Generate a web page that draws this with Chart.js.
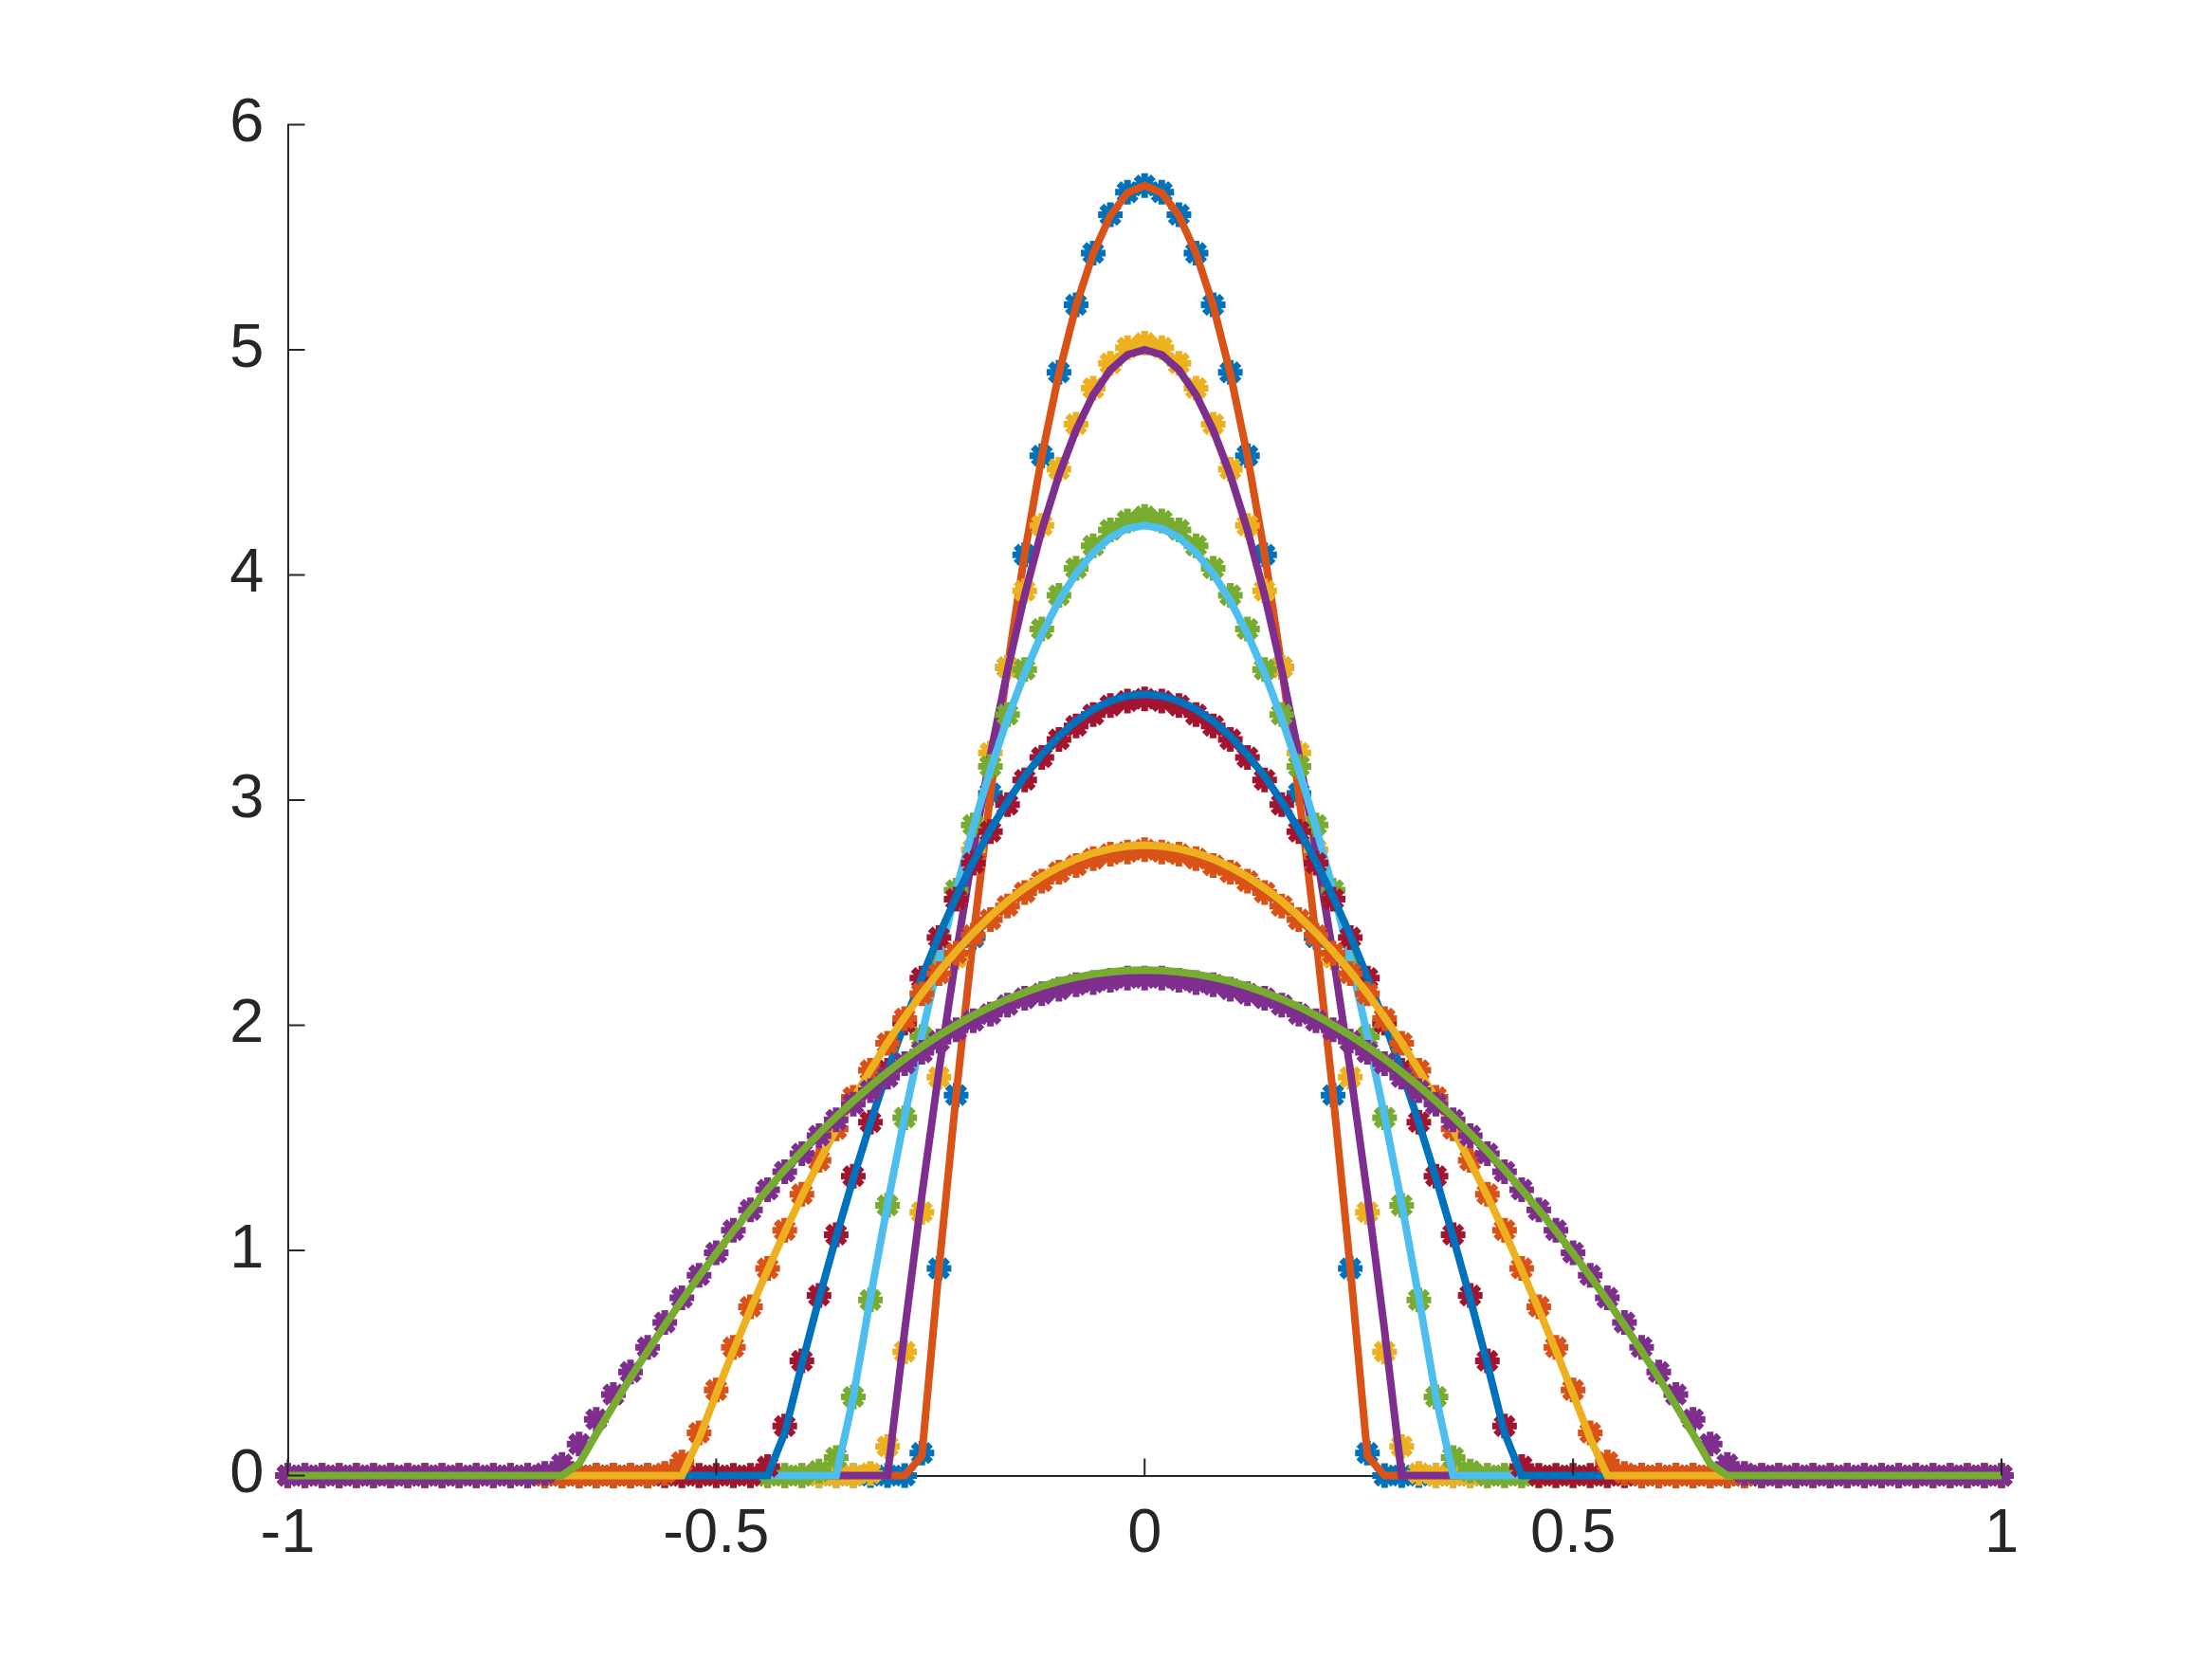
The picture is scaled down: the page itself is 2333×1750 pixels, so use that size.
<!DOCTYPE html>
<html>
<head>
<meta charset="utf-8">
<script src="https://cdn.jsdelivr.net/npm/chart.js@4.4.1/dist/chart.umd.min.js"></script>
<style>
  html, body { margin: 0; padding: 0; background: #fff; }
  canvas { display: block; }
</style>
</head>
<body>
<canvas id="profiles" width="2333" height="1750"></canvas>
<script>
// grid of x positions, -1 .. 1 step 0.02
const xs = [
  -1.00, -0.98, -0.96, -0.94, -0.92, -0.90, -0.88, -0.86, -0.84, -0.82,
  -0.80, -0.78, -0.76, -0.74, -0.72, -0.70, -0.68, -0.66, -0.64, -0.62,
  -0.60, -0.58, -0.56, -0.54, -0.52, -0.50, -0.48, -0.46, -0.44, -0.42,
  -0.40, -0.38, -0.36, -0.34, -0.32, -0.30, -0.28, -0.26, -0.24, -0.22,
  -0.20, -0.18, -0.16, -0.14, -0.12, -0.10, -0.08, -0.06, -0.04, -0.02,
  0.00,
  0.02, 0.04, 0.06, 0.08, 0.10, 0.12, 0.14, 0.16, 0.18, 0.20,
  0.22, 0.24, 0.26, 0.28, 0.30, 0.32, 0.34, 0.36, 0.38, 0.40,
  0.42, 0.44, 0.46, 0.48, 0.50, 0.52, 0.54, 0.56, 0.58, 0.60,
  0.62, 0.64, 0.66, 0.68, 0.70, 0.72, 0.74, 0.76, 0.78, 0.80,
  0.82, 0.84, 0.86, 0.88, 0.90, 0.92, 0.94, 0.96, 0.98, 1.00
];

const xTicks = [-1, -0.5, 0, 0.5, 1];
const yTicks = [0, 1, 2, 3, 4, 5, 6];

// marker series (numerical) and line series (exact), in plotting order
const mark1 = [
  0,0,0,0,0,0,0,0,0,0, 0,0,0,0,0,0,0,0,0,0, 0,0,0,0,0,0,0,0,0,0, 0,0,0,0,0,0,0,
  0.10, 0.92, 1.69, 2.39, 3.03, 3.59, 4.09, 4.53, 4.90, 5.20, 5.43, 5.60, 5.70,
  5.73,
  5.70, 5.60, 5.43, 5.20, 4.90, 4.53, 4.09, 3.59, 3.03, 2.39, 1.69, 0.92, 0.10,
  0,0,0,0,0,0,0,0,0,0, 0,0,0,0,0,0,0,0,0,0, 0,0,0,0,0,0,0,0,0,0, 0,0,0,0,0,0,0
];
const line1 = [
  0,0,0,0,0,0,0,0,0,0, 0,0,0,0,0,0,0,0,0,0, 0,0,0,0,0,0,0,0,0,0, 0,0,0,0,0,0,0,
  0.087, 0.922, 1.690, 2.391, 3.025, 3.593, 4.094, 4.528, 4.895, 5.196, 5.429, 5.596, 5.697,
  5.730,
  5.697, 5.596, 5.429, 5.196, 4.895, 4.528, 4.094, 3.593, 3.025, 2.391, 1.690, 0.922, 0.087,
  0,0,0,0,0,0,0,0,0,0, 0,0,0,0,0,0,0,0,0,0, 0,0,0,0,0,0,0,0,0,0, 0,0,0,0,0,0,0
];
const mark2 = [
  0,0,0,0,0,0,0,0,0,0, 0,0,0,0,0,0,0,0,0,0, 0,0,0,0,0,0,0,0,0,0, 0,0,0,0,
  0.01, 0.13, 0.55, 1.17, 1.77, 2.30, 2.78, 3.21, 3.59, 3.93, 4.22, 4.47, 4.67, 4.83, 4.94, 5.01,
  5.03,
  5.01, 4.94, 4.83, 4.67, 4.47, 4.22, 3.93, 3.59, 3.21, 2.78, 2.30, 1.77, 1.17, 0.55, 0.13, 0.01,
  0,0,0,0,0,0,0,0,0,0, 0,0,0,0,0,0,0,0,0,0, 0,0,0,0,0,0,0,0,0,0, 0,0,0,0
];
const line2 = [
  0,0,0,0,0,0,0,0,0,0, 0,0,0,0,0,0,0,0,0,0, 0,0,0,0,0,0,0,0,0,0, 0,0,0,0,0,0,
  0.644, 1.244, 1.800, 2.311, 2.778, 3.200, 3.578, 3.911, 4.200, 4.444, 4.644, 4.800, 4.911, 4.978,
  5.000,
  4.978, 4.911, 4.800, 4.644, 4.444, 4.200, 3.911, 3.578, 3.200, 2.778, 2.311, 1.800, 1.244, 0.644,
  0,0,0,0,0,0,0,0,0,0, 0,0,0,0,0,0,0,0,0,0, 0,0,0,0,0,0,0,0,0,0, 0,0,0,0,0,0
];
const mark3 = [
  0,0,0,0,0,0,0,0,0,0, 0,0,0,0,0,0,0,0,0,0, 0,0,0,0,0,0,0,0,0,0, 0,
  0.02, 0.08, 0.35, 0.78, 1.20, 1.59, 1.95, 2.29, 2.60, 2.89, 3.15, 3.38, 3.58, 3.76, 3.91, 4.03, 4.13, 4.20, 4.24,
  4.26,
  4.24, 4.20, 4.13, 4.03, 3.91, 3.76, 3.58, 3.38, 3.15, 2.89, 2.60, 2.29, 1.95, 1.59, 1.20, 0.78, 0.35, 0.08, 0.02,
  0,0,0,0,0,0,0,0,0,0, 0,0,0,0,0,0,0,0,0,0, 0,0,0,0,0,0,0,0,0,0, 0
];
const line3 = [
  0,0,0,0,0,0,0,0,0,0, 0,0,0,0,0,0,0,0,0,0, 0,0,0,0,0,0,0,0,0,0, 0,0,0,
  0.349, 0.791, 1.206, 1.595, 1.956, 2.291, 2.599, 2.881, 3.135, 3.363, 3.564, 3.738, 3.885, 4.006, 4.099, 4.166, 4.207,
  4.220,
  4.207, 4.166, 4.099, 4.006, 3.885, 3.738, 3.564, 3.363, 3.135, 2.881, 2.599, 2.291, 1.956, 1.595, 1.206, 0.791, 0.349,
  0,0,0,0,0,0,0,0,0,0, 0,0,0,0,0,0,0,0,0,0, 0,0,0,0,0,0,0,0,0,0, 0,0,0
];
const mark4 = [
  0,0,0,0,0,0,0,0,0,0, 0,0,0,0,0,0,0,0,0,0, 0,0,0,0,0,0,0,0,
  0.04, 0.22, 0.51, 0.80, 1.07, 1.33, 1.57, 1.80, 2.01, 2.21, 2.39, 2.56, 2.72, 2.86, 2.98, 3.09, 3.19, 3.27, 3.33, 3.38, 3.42, 3.44,
  3.45,
  3.44, 3.42, 3.38, 3.33, 3.27, 3.19, 3.09, 2.98, 2.86, 2.72, 2.56, 2.39, 2.21, 2.01, 1.80, 1.57, 1.33, 1.07, 0.80, 0.51, 0.22, 0.04,
  0,0,0,0,0,0,0,0,0,0, 0,0,0,0,0,0,0,0,0,0, 0,0,0,0,0,0,0,0
];
const line4 = [
  0,0,0,0,0,0,0,0,0,0, 0,0,0,0,0,0,0,0,0,0, 0,0,0,0,0,0,0,0,0,
  0.190, 0.495, 0.785, 1.060, 1.321, 1.566, 1.797, 2.012, 2.213, 2.399, 2.570, 2.726, 2.868, 2.994, 3.106, 3.202, 3.284, 3.351, 3.403, 3.440, 3.463,
  3.470,
  3.463, 3.440, 3.403, 3.351, 3.284, 3.202, 3.106, 2.994, 2.868, 2.726, 2.570, 2.399, 2.213, 2.012, 1.797, 1.566, 1.321, 1.060, 0.785, 0.495, 0.190,
  0,0,0,0,0,0,0,0,0,0, 0,0,0,0,0,0,0,0,0,0, 0,0,0,0,0,0,0,0,0
];
const mark5 = [
  0,0,0,0,0,0,0,0,0,0, 0,0,0,0,0,0,0,0,0,0, 0,0,
  0.01, 0.06, 0.19, 0.38, 0.57, 0.75, 0.92, 1.09, 1.25, 1.40, 1.54, 1.68, 1.80, 1.92, 2.03, 2.14, 2.23, 2.32, 2.40, 2.47, 2.53, 2.59, 2.64, 2.68, 2.71, 2.74, 2.76, 2.77,
  2.78,
  2.77, 2.76, 2.74, 2.71, 2.68, 2.64, 2.59, 2.53, 2.47, 2.40, 2.32, 2.23, 2.14, 2.03, 1.92, 1.80, 1.68, 1.54, 1.40, 1.25, 1.09, 0.92, 0.75, 0.57, 0.38, 0.19, 0.06, 0.01,
  0,0,0,0,0,0,0,0,0,0, 0,0,0,0,0,0,0,0,0,0, 0,0
];
const line5 = [
  0,0,0,0,0,0,0,0,0,0, 0,0,0,0,0,0,0,0,0,0, 0,0,0,0,
  0.165, 0.363, 0.555, 0.738, 0.913, 1.081, 1.241, 1.393, 1.537, 1.673, 1.802, 1.923, 2.036, 2.141, 2.239, 2.328, 2.410, 2.484, 2.551, 2.609, 2.660, 2.703, 2.738, 2.765, 2.784, 2.796,
  2.800,
  2.796, 2.784, 2.765, 2.738, 2.703, 2.660, 2.609, 2.551, 2.484, 2.410, 2.328, 2.239, 2.141, 2.036, 1.923, 1.802, 1.673, 1.537, 1.393, 1.241, 1.081, 0.913, 0.738, 0.555, 0.363, 0.165,
  0,0,0,0,0,0,0,0,0,0, 0,0,0,0,0,0,0,0,0,0, 0,0,0,0
];
const mark6 = [
  0,0,0,0,0,0,0,0,0,0, 0,0,0,0,0,
  0.01, 0.05, 0.14, 0.25, 0.36, 0.46, 0.57, 0.68, 0.79, 0.89, 0.99, 1.09, 1.18, 1.27, 1.35, 1.43, 1.51, 1.58, 1.65, 1.71, 1.77, 1.83, 1.88, 1.93, 1.98, 2.02, 2.05, 2.09, 2.12, 2.14, 2.16, 2.18, 2.19, 2.20, 2.21,
  2.21,
  2.21, 2.20, 2.19, 2.18, 2.16, 2.14, 2.12, 2.09, 2.05, 2.02, 1.98, 1.93, 1.88, 1.83, 1.77, 1.71, 1.65, 1.58, 1.51, 1.43, 1.35, 1.27, 1.18, 1.09, 0.99, 0.89, 0.79, 0.68, 0.57, 0.46, 0.36, 0.25, 0.14, 0.05, 0.01,
  0,0,0,0,0,0,0,0,0,0, 0,0,0,0,0
];
const line6 = [
  0,0,0,0,0,0,0,0,0,0, 0,0,0,0,0,0,0,
  0.053, 0.184, 0.311, 0.434, 0.553, 0.667, 0.778, 0.885, 0.987, 1.086, 1.180, 1.271, 1.358, 1.440, 1.519, 1.593, 1.663, 1.730, 1.792, 1.851, 1.905, 1.955, 2.001, 2.044, 2.082, 2.116, 2.146, 2.173, 2.195, 2.213, 2.227, 2.237, 2.243,
  2.245,
  2.243, 2.237, 2.227, 2.213, 2.195, 2.173, 2.146, 2.116, 2.082, 2.044, 2.001, 1.955, 1.905, 1.851, 1.792, 1.730, 1.663, 1.593, 1.519, 1.440, 1.358, 1.271, 1.180, 1.086, 0.987, 0.885, 0.778, 0.667, 0.553, 0.434, 0.311, 0.184, 0.053,
  0,0,0,0,0,0,0,0,0,0, 0,0,0,0,0,0,0
];

// MATLAB default colour order, cycling over the 12 plotted series
const series = [
  { ys: mark1, color: '#0072BD', marker: true },
  { ys: line1, color: '#D95319', marker: false },
  { ys: mark2, color: '#EDB120', marker: true },
  { ys: line2, color: '#7E2F8E', marker: false },
  { ys: mark3, color: '#77AC30', marker: true },
  { ys: line3, color: '#4DBEEE', marker: false },
  { ys: mark4, color: '#A2142F', marker: true },
  { ys: line4, color: '#0072BD', marker: false },
  { ys: mark5, color: '#D95319', marker: true },
  { ys: line5, color: '#EDB120', marker: false },
  { ys: mark6, color: '#7E2F8E', marker: true },
  { ys: line6, color: '#77AC30', marker: false }
];

const axisColor = '#262626';
const fontFamily = '"Liberation Sans", Arial, Helvetica, sans-serif';

const datasets = series.map((s, j) => ({
  data: xs.map((x, i) => ({ x: x, y: s.ys[i] })),
  order: series.length - 1 - j,   // later series on top, like MATLAB
  clip: false,
  showLine: !s.marker,
  borderColor: s.color,
  backgroundColor: s.color,
  borderWidth: s.marker ? 0 : 8,
  pointStyle: 'star',
  pointRadius: s.marker ? 13 : 0,
  pointBorderWidth: 7,
  pointBorderColor: s.color,
  pointBackgroundColor: s.color,
  tension: 0
}));

// inward tick marks (MATLAB style)
const innerTicks = {
  id: 'innerTicks',
  afterDatasetsDraw(chart) {
    const ctx = chart.ctx, a = chart.chartArea;
    const sx = chart.scales.x, sy = chart.scales.y;
    const len = 18;
    ctx.save();
    ctx.strokeStyle = axisColor;
    ctx.lineWidth = 2;
    ctx.beginPath();
    xTicks.forEach(v => {
      const px = sx.getPixelForValue(v);
      ctx.moveTo(px, a.bottom);
      ctx.lineTo(px, a.bottom - len);
    });
    yTicks.forEach(v => {
      const py = sy.getPixelForValue(v);
      ctx.moveTo(a.left, py);
      ctx.lineTo(a.left + len, py);
    });
    ctx.stroke();
    ctx.restore();
  }
};

new Chart(document.getElementById('profiles'), {
  type: 'scatter',
  data: { datasets: datasets },
  plugins: [innerTicks],
  options: {
    responsive: false,
    animation: false,
    events: [],
    layout: {
      padding: { left: 0, top: 131.5, right: 222, bottom: 0 }
    },
    plugins: {
      legend: { display: false },
      tooltip: { enabled: false }
    },
    scales: {
      x: {
        type: 'linear',
        min: -1,
        max: 1,
        afterBuildTicks: scale => { scale.ticks = xTicks.map(v => ({ value: v })); },
        afterFit: scale => { scale.height = 193.5; },
        ticks: {
          color: axisColor,
          padding: 24,
          maxRotation: 0,
          font: { family: fontFamily, size: 65 },
          callback: v => String(v)
        },
        grid: { drawOnChartArea: false, drawTicks: false },
        border: { display: true, color: axisColor, width: 2 }
      },
      y: {
        type: 'linear',
        min: 0,
        max: 6,
        afterBuildTicks: scale => { scale.ticks = yTicks.map(v => ({ value: v })); },
        afterFit: scale => { scale.width = 303.5; },
        ticks: {
          color: axisColor,
          padding: 25,
          font: { family: fontFamily, size: 65 },
          callback: v => String(v)
        },
        grid: { drawOnChartArea: false, drawTicks: false },
        border: { display: true, color: axisColor, width: 2 }
      }
    }
  }
});
</script>
</body>
</html>
